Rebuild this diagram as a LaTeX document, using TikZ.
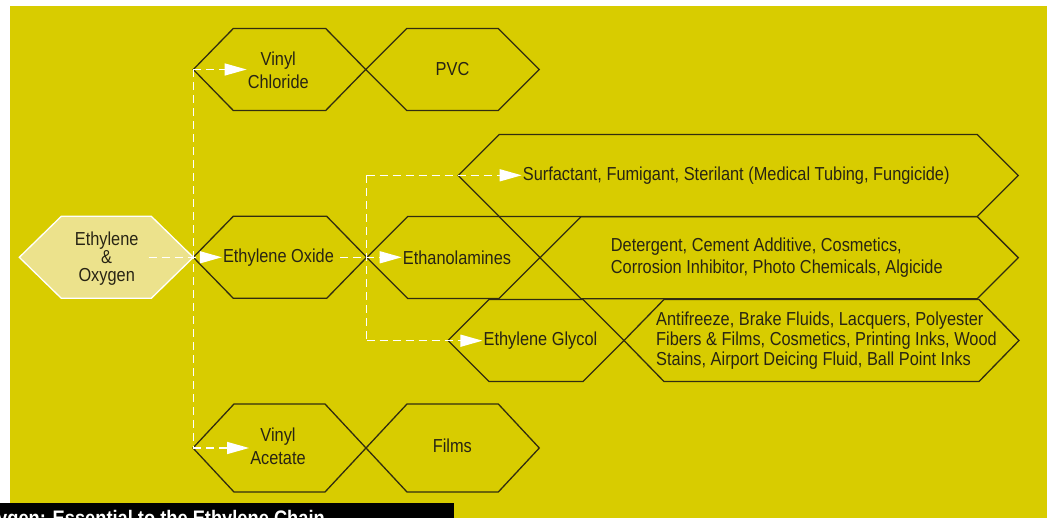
\documentclass[tikz,border=0pt]{standalone}
\usepackage{fontspec}
\setmainfont{Liberation Sans}[FakeStretch=0.87]
\usetikzlibrary{arrows.meta}
\definecolor{bgyellow}{RGB}{216,204,0}
\definecolor{srcfill}{RGB}{236,226,140}
\definecolor{hexcol}{RGB}{50,45,15}
\definecolor{txt}{RGB}{40,36,20}
\newcommand\hexdraw[6][]{\draw[hexl,#1] (#2,#4) -- ({#2+#6},{#4-#5}) -- ({#3-#6},{#4-#5}) -- (#3,#4) -- ({#3-#6},{#4+#5}) -- ({#2+#6},{#4+#5}) -- cycle;}
\tikzset{
  hexl/.style={draw=hexcol, line width=1.3pt, line join=miter},
  lbl/.style={inner sep=0pt, text=txt, font=\fontsize{18.8}{23}\selectfont},
  dline/.style={white, line width=1.4pt, dash pattern=on 8pt off 5pt},
  flow/.style={dline, -{Triangle[length=22pt,width=12pt]}, shorten >=1pt},
}
\begin{document}
\begin{tikzpicture}[x=1pt,y=-1pt]
\useasboundingbox (0,0) rectangle (1047,518);
\fill[white] (0,0) rectangle (1047,518);
\fill[bgyellow] (10,6) rectangle (1047,518);
% hexagons
\hexdraw[fill=srcfill, draw=white]{19.3}{193.3}{257.3}{41}{42}
\hexdraw{193.3}{365.7}{69.5}{41}{40}
\hexdraw{365.7}{539.3}{69.5}{41}{41}
\hexdraw{193.3}{366.7}{257.3}{41}{40}
\hexdraw{366.7}{540}{257.5}{41}{41}
\hexdraw{458.3}{1018.3}{175.5}{41}{41}
\hexdraw{540}{1018.3}{257.7}{41}{41}
\hexdraw{448}{624}{340.5}{41}{41}
\hexdraw{624}{1019}{340.5}{41}{40}
\hexdraw{193}{366}{448}{44}{41}
\hexdraw{366}{539.3}{448}{44}{41}
% labels
\node[lbl, align=center, font=\fontsize{18.8}{18}\selectfont] (src) at (106.7,259) {Ethylene\\\&\\Oxygen};
\node[lbl, align=center] (vc) at (278.3,69.8) {Vinyl\\Chloride};
\node[lbl] (pvc) at (452.5,69.5) {PVC};
\node[lbl] (eo) at (278.5,257.3) {Ethylene Oxide};
\node[lbl] (ea) at (457,257.3) {Ethanolamines};
\node[lbl, anchor=west] (surf) at (522.7,175.3) {Surfactant, Fumigant, Sterilant (Medical Tubing, Fungicide)};
\node[lbl, anchor=west, align=left, font=\fontsize{18.8}{21.6}\selectfont] (det) at (610.7,257.5) {Detergent, Cement Additive, Cosmetics,\\Corrosion Inhibitor, Photo Chemicals, Algicide};
\node[lbl] (eg) at (540.5,340.7) {Ethylene Glycol};
\node[lbl, anchor=west, align=left, font=\fontsize{18.8}{20}\selectfont] (af) at (656,340.5) {Antifreeze, Brake Fluids, Lacquers, Polyester\\Fibers \& Films, Cosmetics, Printing Inks, Wood\\Stains, Airport Deicing Fluid, Ball Point Inks};
\node[lbl, align=center] (va) at (278,446.5) {Vinyl\\Acetate};
\node[lbl] (films) at (452.3,446) {Films};
% connectors
\coordinate (vcL) at (193.3,69.5);
\coordinate (vaL) at (193.3,448);
\coordinate (top2) at (366.7,175.3);
\coordinate (bot2) at (366.7,340.7);
\draw[dline] (vcL) -- (vaL);
\draw[flow] (vcL) -- (vc.west |- vcL);
\draw[flow] (vaL) -- (va.west |- vaL);
\draw[flow] ([xshift=10pt]src.east |- eo.west) -- (eo.west);
\draw[flow] ([xshift=6pt]eo.east) -- (ea.west);
\draw[dline] (top2) -- (bot2);
\draw[flow] (top2) -- (surf.west |- top2);
\draw[flow] (bot2) -- (eg.west |- bot2);
% caption bar
\fill[black] (0,502.7) rectangle (454,518);
\begin{scope}
\clip (0,502.7) rectangle (454,518);
\node[anchor=base west, inner sep=0pt, text=white, font=\bfseries\fontsize{21}{21}\selectfont] (cap) at (-3,525) {ygen: Essential to the Ethylene Chain};
\end{scope}
\end{tikzpicture}
\end{document}
